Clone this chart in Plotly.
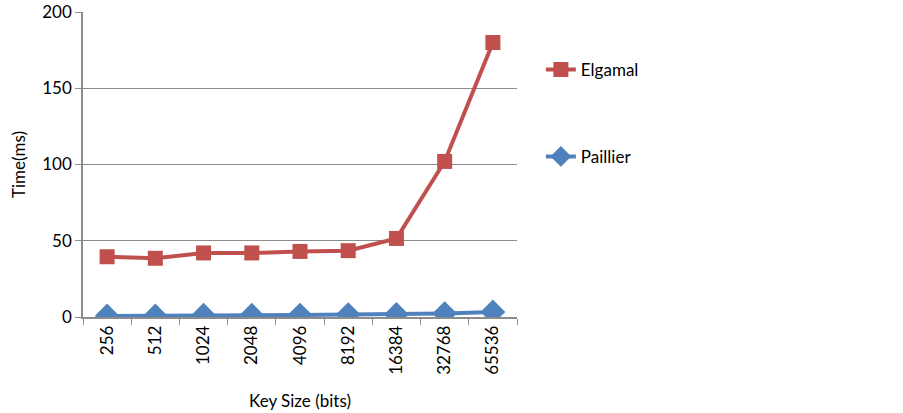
import plotly.graph_objects as go

key_sizes = ["256", "512", "1024", "2048", "4096", "8192", "16384", "32768", "65536"]
elgamal = [39.5, 38.5, 42, 42, 43, 43.5, 51.5, 102, 180]
paillier = [0.7, 0.7, 1.2, 1.2, 1.3, 1.6, 1.7, 2.3, 3.3]

FONT = "Lato"
GRID = "#8c8c8c"
FS = 17

fig = go.Figure()
fig.add_trace(go.Scatter(
    x=key_sizes, y=elgamal, name="Elgamal", mode="lines+markers",
    line=dict(color="#C0504D", width=4),
    marker=dict(symbol="square", size=15, color="#C0504D"),
    legend="legend",
))
fig.add_trace(go.Scatter(
    x=key_sizes, y=paillier, name="Paillier", mode="lines+markers",
    line=dict(color="#4F81BD", width=4),
    marker=dict(symbol="diamond", size=19, color="#4F81BD"),
    legend="legend2",
))

fig.update_layout(
    width=903, height=413,
    margin=dict(l=83, r=386, t=12, b=96, autoexpand=False),
    paper_bgcolor="white", plot_bgcolor="white",
    font=dict(family=FONT, size=FS, color="#000000"),
    legend=dict(x=1.055, y=0.81, xanchor="left", yanchor="middle",
                font=dict(family=FONT, size=FS), bgcolor="rgba(0,0,0,0)"),
    legend2=dict(x=1.055, y=0.525, xanchor="left", yanchor="middle",
                 font=dict(family=FONT, size=FS), bgcolor="rgba(0,0,0,0)"),
    showlegend=True,
)
fig.update_xaxes(
    type="category", tickangle=-90, tickson="boundaries",
    ticks="outside", ticklen=6, tickcolor=GRID,
    showline=True, linecolor=GRID, linewidth=1.5,
    showgrid=False, automargin=False,
    title=dict(text="Key Size (bits)", font=dict(family=FONT, size=FS), standoff=21),
    tickfont=dict(family=FONT, size=FS),
    range=[-0.5, 8.5],
)
fig.update_yaxes(
    range=[0, 200], dtick=50,
    ticks="outside", ticklen=6, tickcolor=GRID,
    showline=True, linecolor=GRID, linewidth=1.5,
    showgrid=True, gridcolor=GRID, gridwidth=1,
    zeroline=False, automargin=False, ticklabeloverflow="allow",
    title=dict(text="Time(ms)", font=dict(family=FONT, size=FS), standoff=12),
    tickfont=dict(family=FONT, size=FS),
)

fig.write_html("out.html", config={"displayModeBar": False},
               post_script="document.body.style.margin='0';")
